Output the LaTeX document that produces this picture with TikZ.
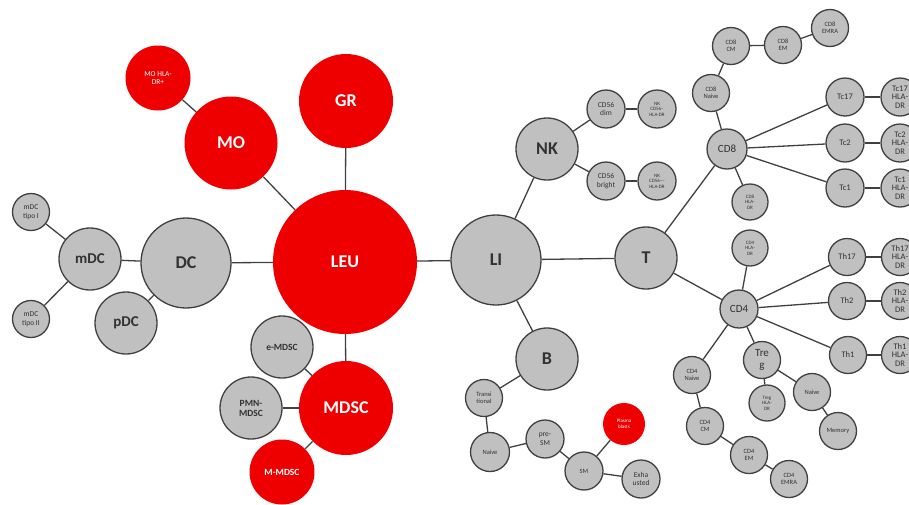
\documentclass[tikz,border=0pt]{standalone}
\usepackage{fontspec}
\setmainfont{Carlito}
\definecolor{redc}{RGB}{238,0,0}
\definecolor{grayc}{RGB}{192,192,192}
\definecolor{linec}{RGB}{64,64,64}
\definecolor{txtc}{RGB}{50,50,50}
\tikzset{
  gn/.style={circle,draw=linec,line width=1.3pt,fill=grayc,inner sep=0pt,minimum size=#1,align=center,text=txtc},
  rn/.style={circle,fill=redc,inner sep=0pt,minimum size=#1,align=center,text=white},
  big/.style={font=\fontsize{18}{18}\selectfont\bfseries},
  mid/.style={font=\fontsize{15}{15}\selectfont\bfseries},
  sb/.style={font=\fontsize{9.5}{10}\selectfont\bfseries},
  s11/.style={font=\fontsize{11}{11}\selectfont},
  s9/.style={font=\fontsize{8.5}{8.5}\selectfont},
  s8/.style={font=\fontsize{7.5}{8.5}\selectfont},
  s7/.style={font=\fontsize{6.5}{7.5}\selectfont},
  s5/.style={font=\fontsize{5}{5.6}\selectfont},
  edge/.style={draw=linec,line width=1.3pt}
}
\begin{document}
\begin{tikzpicture}[x=1pt,y=-1pt]
\useasboundingbox (0,0) rectangle (909,504);
% left / center
\node[rn=144,big] (leu) at (345,262) {LEU};
\node[rn=94,big] (gr) at (346,101) {GR};
\node[rn=93,big] (mo) at (231,143) {MO};
\node[rn=65,s8] (mohla) at (158,78) {MO HLA-\\DR+};
\node[gn=90,big] (dc) at (186,263) {DC};
\node[gn=62,mid] (mdc) at (90,259) {mDC};
\node[gn=37,s8] (mdc1) at (31,212) {mDC\\tipo I};
\node[gn=37,s8] (mdc2) at (31,319) {mDC\\tipo II};
\node[gn=62,mid] (pdc) at (126,323) {pDC};
\node[rn=94,big] (mdsc) at (346,408) {MDSC};
\node[gn=62,sb] (emdsc) at (282,347) {e-MDSC};
\node[gn=62,sb] (pmn) at (251,408) {PMN-\\MDSC};
\node[rn=65,sb] (mmdsc) at (282,472) {M-MDSC};
% LI
\node[gn=90,big] (li) at (496,260) {LI};
\node[gn=62,big] (nk) at (547,149) {NK};
\node[gn=38,s8] (dim) at (606,109) {CD56\\dim};
\node[gn=38,s5] (nk1) at (657,109) {NK\\CD56−\\HLA-DR};
\node[gn=38,s8] (bright) at (606,181) {CD56\\bright};
\node[gn=38,s5] (nk2) at (657,181) {NK\\CD56−−\\HLA-DR};
\node[gn=62,big] (t) at (646,258) {T};
% CD8
\node[gn=40,s11] (cd8) at (727,149) {CD8};
\node[gn=37,s7] (cd8n) at (711,93) {CD8\\Naive};
\node[gn=37,s7] (cd8cm) at (731,46) {CD8\\CM};
\node[gn=37,s7] (cd8em) at (783,45) {CD8\\EM};
\node[gn=37,s7] (cd8emra) at (830,28) {CD8\\EMRA};
\node[gn=36,s5] (cd8hla) at (750,202) {CD8\\HLA-\\DR};
\node[gn=38,s9] (tc17) at (845,97) {Tc17};
\node[gn=38,s9] (tc2) at (845,143) {Tc2};
\node[gn=38,s9] (tc1) at (845,188) {Tc1};
\node[gn=38,s9] (tc17h) at (900,97) {Tc17\\HLA-\\DR};
\node[gn=38,s9] (tc2h) at (900,143) {Tc2\\HLA-\\DR};
\node[gn=38,s9] (tc1h) at (900,188) {Tc1\\HLA-\\DR};
% CD4
\node[gn=38,s11] (cd4) at (739,309) {CD4};
\node[gn=36,s5] (cd4hla) at (750,248) {CD4\\HLA-\\DR};
\node[gn=37,s9] (th17) at (847,257) {Th17};
\node[gn=37,s9] (th2) at (847,301) {Th2};
\node[gn=37,s9] (th1) at (848,355) {Th1};
\node[gn=37,s9] (th17h) at (900,257) {Th17\\HLA-\\DR};
\node[gn=37,s9] (th2h) at (900,301) {Th2\\HLA-\\DR};
\node[gn=37,s9] (th1h) at (900,355) {Th1\\HLA-\\DR};
\node[gn=37,font=\fontsize{11}{12}\selectfont] (treg) at (762,360) {Tre\\g};
\node[gn=36,s5] (treghla) at (767,403) {Treg\\HLA-\\DR};
\node[gn=37,s7] (tnaive) at (812,392) {Naive};
\node[gn=37,s7] (memory) at (838,431) {Memory};
\node[gn=37,s7] (cd4n) at (692,375) {CD4\\Naive};
\node[gn=37,s7] (cd4cm) at (705,426) {CD4\\CM};
\node[gn=37,s7] (cd4em) at (749,455) {CD4\\EM};
\node[gn=37,s7] (cd4emra) at (789,479) {CD4\\EMRA};
% B
\node[gn=62,big] (b) at (547,359) {B};
\node[gn=37,s7] (trans) at (484,398) {Transi\\tional};
\node[gn=39,s7] (bnaive) at (490,452) {Naive};
\node[gn=38,s8] (presm) at (545,439) {pre-\\SM};
\node[gn=38,s7] (sm) at (584,471) {SM};
\node[rn=42,s5] (plasma) at (624,424) {Plasma\\blasts};
\node[gn=38,s8] (exh) at (641,479) {Exha\\usted};
% edges
\foreach \a/\b in {leu/gr,leu/mo,mo/mohla,leu/dc,dc/mdc,dc/pdc,mdc/mdc1,mdc/mdc2,
  leu/mdsc,mdsc/emdsc,mdsc/pmn,mdsc/mmdsc,leu/li,li/nk,li/t,li/b,
  nk/dim,nk/bright,dim/nk1,bright/nk2,t/cd8,t/cd4,
  cd8/cd8n,cd8n/cd8cm,cd8cm/cd8em,cd8em/cd8emra,cd8/cd8hla,cd8/tc17,cd8/tc2,cd8/tc1,
  tc17/tc17h,tc2/tc2h,tc1/tc1h,
  cd4/cd4hla,cd4/th17,cd4/th2,cd4/th1,th17/th17h,th2/th2h,th1/th1h,
  cd4/treg,treg/treghla,treg/tnaive,tnaive/memory,cd4/cd4n,cd4n/cd4cm,cd4cm/cd4em,cd4em/cd4emra,
  b/trans,trans/bnaive,bnaive/presm,presm/sm,sm/plasma,sm/exh}
  \draw[edge] (\a) -- (\b);
\end{tikzpicture}
\end{document}
